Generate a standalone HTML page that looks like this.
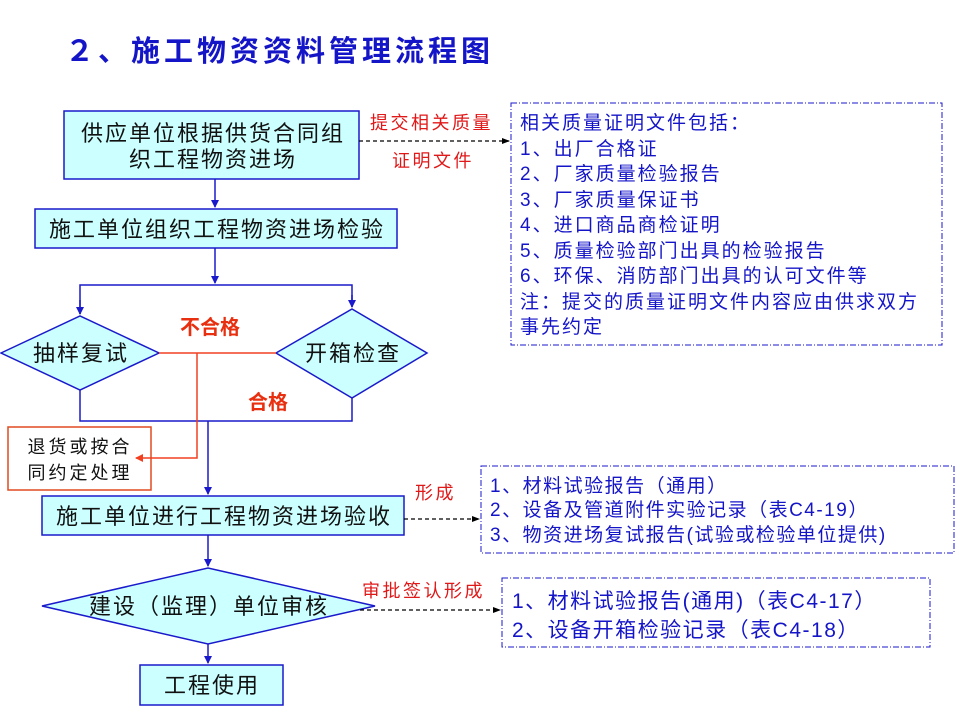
<!DOCTYPE html>
<html><head><meta charset="utf-8"><style>
body{margin:0;background:#fff}
svg{display:block}
text{font-family:"Liberation Sans","Noto Sans CJK SC",sans-serif}
</style></head><body>
<svg width="960" height="720" viewBox="0 0 960 720" xmlns="http://www.w3.org/2000/svg">
<defs>
<marker id="ab" markerWidth="8" markerHeight="8" refX="7" refY="4" orient="auto" markerUnits="userSpaceOnUse"><path d="M0,0 L8,4 L0,8 Z" fill="#1a1acc"/></marker>
<marker id="ak" markerWidth="8" markerHeight="8" refX="7" refY="4" orient="auto" markerUnits="userSpaceOnUse"><path d="M0,1 L8,4 L0,7 Z" fill="#000"/></marker>
<marker id="ar" markerWidth="8" markerHeight="8" refX="7" refY="4" orient="auto" markerUnits="userSpaceOnUse"><path d="M0,0 L8,4 L0,8 Z" fill="#f04020"/></marker>
</defs>
<text x="65" y="61" font-size="29" font-weight="bold" fill="#1515c8" letter-spacing="4">２、施工物资资料管理流程图</text>

<g stroke="#1a1acc" stroke-width="1.5" fill="#ccffff">
<rect x="64" y="111" width="295" height="68"/>
<rect x="35" y="209" width="362" height="39"/>
<polygon points="1,353 80,316 159,353 80,390"/>
<polygon points="276,353 352,309 427,353 352,398"/>
<rect x="42" y="496" width="362" height="39"/>
<polygon points="42,606 208,568 375,606 208,644"/>
<rect x="140" y="665" width="143" height="40"/>
</g>
<rect x="8" y="427" width="143" height="63" fill="#fff" stroke="#e04a20" stroke-width="1.5"/>

<g stroke="#1a1acc" stroke-width="1.5" fill="none">
<line x1="215" y1="179" x2="215" y2="207" marker-end="url(#ab)"/>
<line x1="215" y1="248" x2="215" y2="283" marker-end="url(#ab)"/>
<polyline points="80,314 80,285 352,285 352,307" />
<line x1="80" y1="300" x2="80" y2="314" marker-end="url(#ab)"/>
<line x1="352" y1="295" x2="352" y2="307" marker-end="url(#ab)"/>
<polyline points="80,390 80,421 352,421 352,398"/>
<line x1="208" y1="421" x2="208" y2="494" marker-end="url(#ab)"/>
<line x1="208" y1="535" x2="208" y2="566" marker-end="url(#ab)"/>
<line x1="208" y1="644" x2="208" y2="663" marker-end="url(#ab)"/>
</g>
<g stroke="#f04020" stroke-width="1.5" fill="none">
<line x1="159" y1="353" x2="276" y2="353"/>
<polyline points="197,353 197,458 136,458" marker-end="url(#ar)"/>
</g>

<g stroke="#000" stroke-width="1.2" stroke-dasharray="4,3" fill="none">
<line x1="359" y1="141" x2="509" y2="141" marker-end="url(#ak)"/>
<line x1="404" y1="519" x2="479" y2="519" marker-end="url(#ak)"/>
<line x1="360" y1="610" x2="500" y2="610" marker-end="url(#ak)"/>
</g>

<g stroke="#1a1acc" stroke-width="1" stroke-dasharray="6,2,1,2" fill="none">
<rect x="511" y="103" width="431" height="242"/>
<rect x="481" y="466" width="473" height="87"/>
<rect x="502" y="578" width="428" height="69"/>
</g>

<g font-size="22" fill="#111" text-anchor="middle" letter-spacing="2">
<text x="213" y="141">供应单位根据供货合同组</text>
<text x="213" y="167">织工程物资进场</text>
<text x="217" y="237">施工单位组织工程物资进场检验</text>
<text x="81" y="361">抽样复试</text>
<text x="353" y="361">开箱检查</text>
<text x="224" y="524">施工单位进行工程物资进场验收</text>
<text x="209" y="614">建设（监理）单位审核</text>
<text x="212" y="693">工程使用</text>
</g>
<g font-size="18" fill="#111" text-anchor="middle" letter-spacing="3">
<text x="80" y="453">退货或按合</text>
<text x="80" y="479">同约定处理</text>
</g>

<g fill="#e01818" font-size="18" letter-spacing="2.5">
<text x="370" y="129">提交相关质量</text>
<text x="392" y="167">证明文件</text>
<text x="415" y="499">形成</text>
<text x="362" y="597">审批签认形成</text>
</g>
<g fill="#e83010" font-size="20" font-weight="bold">
<text x="180" y="334">不合格</text>
<text x="248" y="409">合格</text>
</g>

<g fill="#1515c8" font-size="19" letter-spacing="2">
<text x="520" y="129">相关质量证明文件包括：</text>
<text x="520" y="155">1、出厂合格证</text>
<text x="520" y="180">2、厂家质量检验报告</text>
<text x="520" y="206">3、厂家质量保证书</text>
<text x="520" y="231">4、进口商品商检证明</text>
<text x="520" y="257">5、质量检验部门出具的检验报告</text>
<text x="520" y="282">6、环保、消防部门出具的认可文件等</text>
<text x="520" y="308">注：提交的质量证明文件内容应由供求双方</text>
<text x="520" y="333">事先约定</text>
</g>
<g fill="#1515c8" font-size="19" letter-spacing="1.5">
<text x="490" y="492">1、材料试验报告（通用）</text>
<text x="490" y="516">2、设备及管道附件实验记录（表C4-19）</text>
<text x="490" y="541">3、物资进场复试报告(试验或检验单位提供)</text>
</g>
<g fill="#1515c8" font-size="21" letter-spacing="1.5">
<text x="512" y="608">1、材料试验报告(通用)（表C4-17）</text>
<text x="512" y="637">2、设备开箱检验记录（表C4-18）</text>
</g>
</svg>
</body></html>
